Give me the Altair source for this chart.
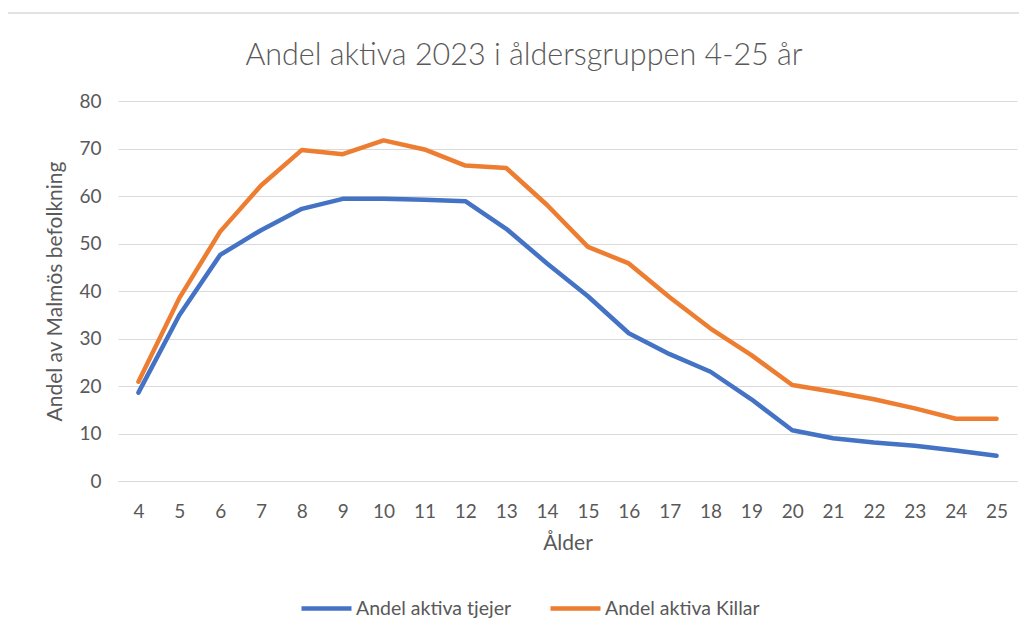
import altair as alt
import pandas as pd

ages = list(range(4, 26))
tjejer = [18.6, 34.9, 47.6, 52.8, 57.3, 59.4, 59.4, 59.2, 58.9, 53.1, 45.8, 38.9,
          31.1, 26.7, 23.0, 17.2, 10.7, 9.0, 8.1, 7.4, 6.4, 5.3]
killar = [20.9, 38.5, 52.5, 62.2, 69.7, 68.8, 71.7, 69.8, 66.4, 65.9, 58.1, 49.3,
          45.8, 38.7, 32.1, 26.5, 20.2, 18.8, 17.2, 15.3, 13.1, 13.1]
series = ["Andel aktiva tjejer", "Andel aktiva Killar"]
colors = ["#4472C4", "#ED7D31"]
title_text = "Andel aktiva 2023 i åldersgruppen 4-25 år"

rows = []
for a, v in zip(ages, tjejer):
    rows.append({"Ålder": str(a), "num": a, "Andel": v, "Serie": series[0]})
for a, v in zip(ages, killar):
    rows.append({"Ålder": str(a), "num": a, "Andel": v, "Serie": series[1]})
df = pd.DataFrame(rows)

FONT = "Lato"
GREY = "#595959"

lines = alt.Chart(df).mark_line(strokeWidth=4.5, strokeCap="round", strokeJoin="round").encode(
    x=alt.X("Ålder:O", sort=[str(a) for a in ages],
            scale=alt.Scale(type="point", padding=0.5),
            axis=alt.Axis(title="Ålder", labelAngle=0, ticks=False, domain=True,
                          domainColor="#D9D9D9", labelPadding=21, titlePadding=11)),
    y=alt.Y("Andel:Q", scale=alt.Scale(domain=[0, 80]),
            axis=alt.Axis(title="Andel av Malmös befolkning", values=list(range(0, 81, 10)),
                          ticks=False, domain=False, labelPadding=17, titlePadding=13,
                          gridColor="#D9D9D9", gridWidth=1.2)),
    color=alt.Color("Serie:N", scale=alt.Scale(domain=series, range=colors),
                    legend=alt.Legend(title=None, orient="none", legendX=181, legendY=480,
                                      direction="horizontal", symbolType="stroke",
                                      symbolSize=2500, symbolStrokeWidth=4.5,
                                      labelOffset=2, columnPadding=29,
                                      labelFontSize=19.5, labelColor=GREY, labelFont=FONT)),
    order=alt.Order("num:Q"),
)

border = alt.Chart(pd.DataFrame({"a": [0]})).mark_rule(color="#D9D9D9", strokeWidth=1.5).encode(
    x=alt.value(-113), x2=alt.value(905), y=alt.value(-88)
)

title = alt.Chart(pd.DataFrame({"t": [title_text]})).mark_text(
    font=FONT, fontSize=30.5, fontWeight=300, color=GREY, align="center", baseline="middle"
).encode(text="t:N", x=alt.value(406), y=alt.value(-45))

chart = alt.layer(border, title, lines).properties(
    width=899, height=380,
    autosize=alt.AutoSizeParams(type="none"),
    padding={"left": 110, "top": 93, "right": 2, "bottom": 143},
    background="white",
).configure_view(stroke=None).configure_axis(
    labelFont=FONT, titleFont=FONT, labelFontSize=19, titleFontSize=21,
    labelColor=GREY, titleColor=GREY, titleFontWeight="normal"
)

chart.save("out.html", embed_options={"renderer": "svg", "actions": False})
